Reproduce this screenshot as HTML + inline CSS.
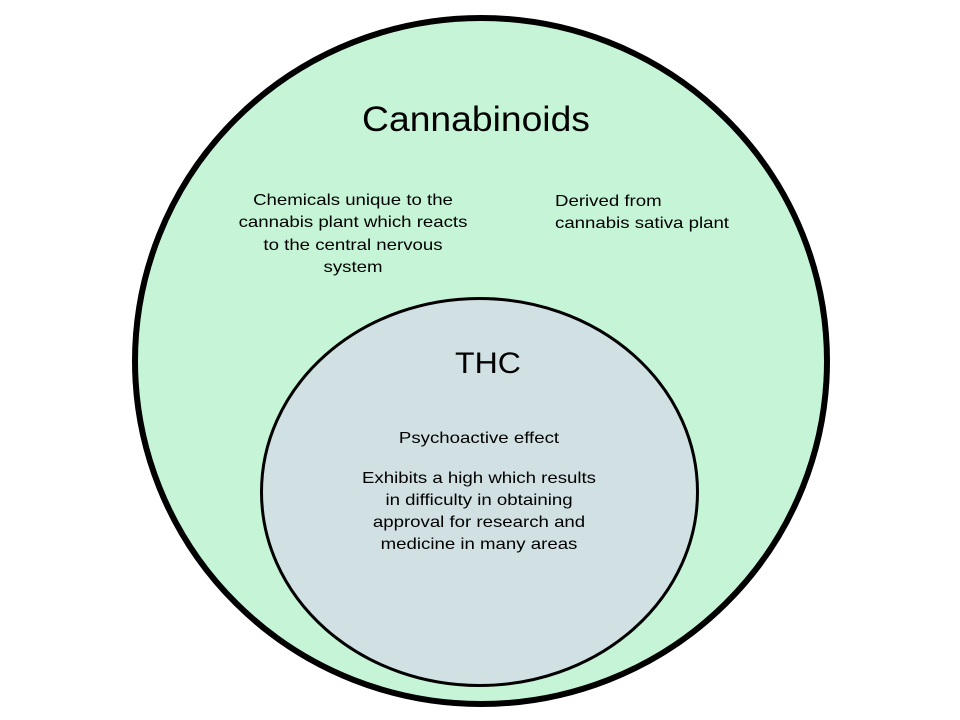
<!DOCTYPE html>
<html><head><meta charset="utf-8"><style>
html,body{margin:0;padding:0;background:#fff;}
svg{display:block;}
text{font-family:"Liberation Sans",Arial,sans-serif;fill:#000;}
</style></head><body>
<svg width="960" height="720" viewBox="0 0 960 720">
<ellipse cx="481" cy="361" rx="346" ry="343" fill="#c6f4d6" stroke="#000" stroke-width="6"/>
<ellipse cx="479.5" cy="492" rx="218" ry="193.5" fill="#d0e0e3" stroke="#000" stroke-width="3"/>
<g transform="translate(476,0) scale(1.065,1)"><text x="0" y="131" font-size="35" text-anchor="middle">Cannabinoids</text></g>
<g font-size="16" text-anchor="middle" transform="translate(353,0) scale(1.165,1)">
<text x="0" y="205">Chemicals unique to the</text>
<text x="0" y="227">cannabis plant which reacts</text>
<text x="0" y="250">to the central nervous</text>
<text x="0" y="272">system</text>
</g>
<g font-size="16" transform="translate(555,0) scale(1.165,1)">
<text x="0" y="206">Derived from</text>
<text x="0" y="228">cannabis sativa plant</text>
</g>
<g transform="translate(488,0) scale(1.07,1)"><text x="0" y="373" font-size="30" text-anchor="middle">THC</text></g>
<g font-size="16" text-anchor="middle" transform="translate(479,0) scale(1.165,1)">
<text x="0" y="443">Psychoactive effect</text>
<text x="0" y="483">Exhibits a high which results</text>
<text x="0" y="505">in difficulty in obtaining</text>
<text x="0" y="527">approval for research and</text>
<text x="0" y="549">medicine in many areas</text>
</g>
</svg>
</body></html>
